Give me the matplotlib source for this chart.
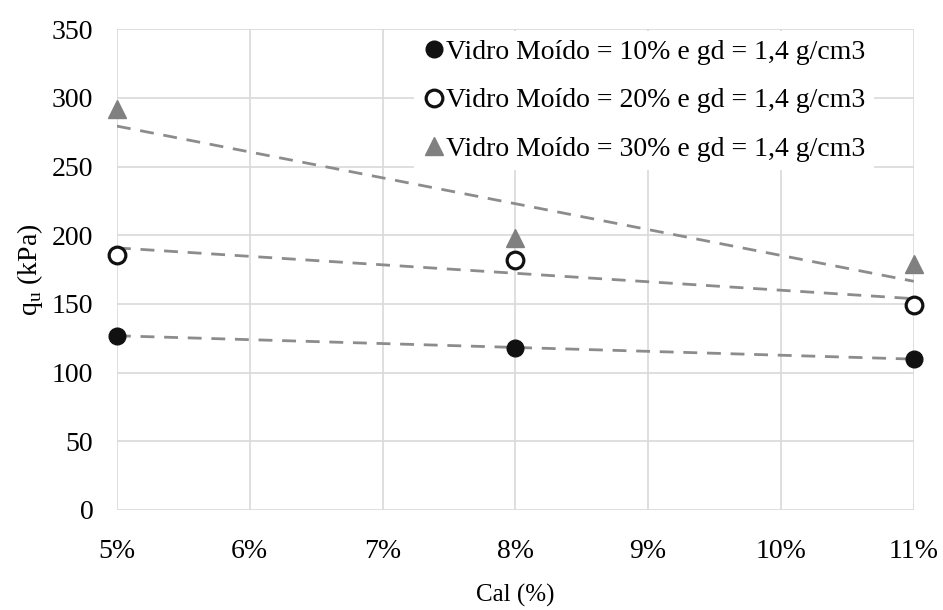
import numpy as np
import matplotlib
matplotlib.use("Agg")
import matplotlib.pyplot as plt
from matplotlib.ticker import FuncFormatter

plt.rcParams['font.family'] = ['Liberation Serif', 'DejaVu Serif']
plt.rcParams['mathtext.fontset'] = 'custom'
plt.rcParams['mathtext.rm'] = 'Liberation Serif'

cal = [5, 8, 11]
vm10 = [127, 118, 110]
vm20 = [186, 182, 149]
vm30 = [292, 198, 179]
labels = ["Vidro Moído = 10% e gd = 1,4 g/cm3",
          "Vidro Moído = 20% e gd = 1,4 g/cm3",
          "Vidro Moído = 30% e gd = 1,4 g/cm3"]

fig, ax = plt.subplots(figsize=(9.43, 6.10), dpi=100)
fig.subplots_adjust(left=0.124, right=0.969, top=0.952, bottom=0.164)

xs = np.array(cal, dtype=float)
for ys in [vm10, vm20, vm30]:
    k, b = np.polyfit(xs, ys, 1)
    ax.plot([5, 11], [k * 5 + b, k * 11 + b], color="#8c8c8c", lw=2,
            ls=(0, (5, 3.5)), zorder=2)

ax.plot(cal, vm10, "o", color="#111111", ms=12, label=labels[0], clip_on=False, zorder=3)
ax.plot(cal, vm20, "o", mfc="white", mec="#111111", mew=2.3, ms=12, label=labels[1],
        clip_on=False, zorder=3)
ax.plot(cal, vm30, "^", color="#808080", ms=13, label=labels[2], clip_on=False, zorder=3)

ax.set_xlim(5, 11)
ax.set_ylim(0, 350)
ax.set_xticks(range(5, 12))
ax.set_yticks(range(0, 351, 50))
ax.xaxis.set_major_formatter(FuncFormatter(lambda v, p: f"{v:.0f}%"))
ax.grid(True, color="#d9d9d9", lw=1.2)
ax.set_axisbelow(True)
for s in ax.spines.values():
    s.set_visible(False)
ax.tick_params(length=0, labelsize=20)
ax.tick_params(axis="y", pad=17)
ax.tick_params(axis="x", pad=21)
ax.set_xlabel("Cal (%)", fontsize=18, labelpad=14)
ax.set_ylabel(r"q$_\mathrm{u}$ (kPa)", fontsize=20, labelpad=5)

leg = ax.legend(loc="upper right", bbox_to_anchor=(0.95, 0.996), borderaxespad=0,
                fontsize=20, frameon=True, edgecolor="none", facecolor="white",
                framealpha=1, handletextpad=0.05, handlelength=0.8, borderpad=0.3,
                labelspacing=0.83)
leg.get_frame().set_boxstyle("square", pad=0)

plt.savefig("out.png", dpi=100)
